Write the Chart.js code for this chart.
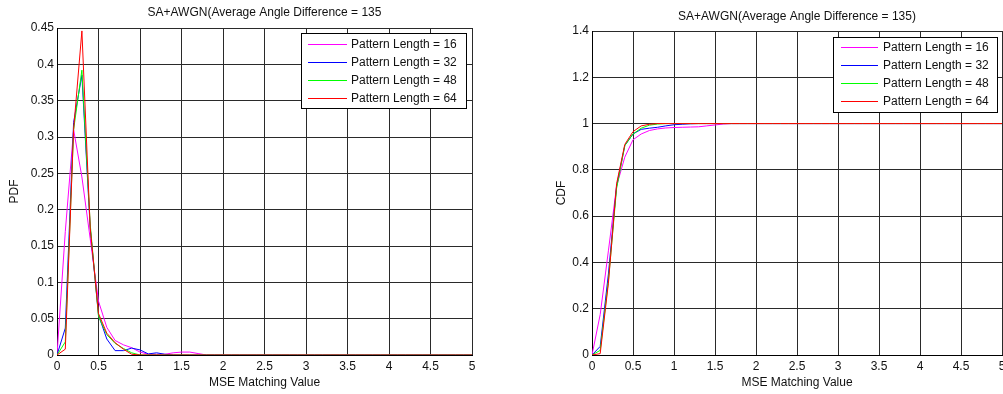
<!DOCTYPE html>
<html><head><meta charset="utf-8">
<script src="https://cdn.jsdelivr.net/npm/chart.js@4.4.0/dist/chart.umd.min.js"></script>
<style>
html,body{margin:0;padding:0;background:#fff;width:1003px;height:394px;overflow:hidden}
canvas{position:absolute;top:0}
#c1{left:0}
#c2{left:540px}
</style></head><body>
<canvas id="c1" width="500" height="394"></canvas>
<canvas id="c2" width="463" height="394"></canvas>
<script>
// ---- data ----
const mseValues = [0,0.1,0.2,0.3,0.4,0.5,0.6,0.7,0.8,0.9,1,1.1,1.2,1.3,1.4,1.5,1.6,1.7,1.8,1.9,2,2.1,2.2,2.3,2.4,2.5,2.6,2.7,2.8,2.9,3,3.1,3.2,3.3,3.4,3.5,3.6,3.7,3.8,3.9,4,4.1,4.2,4.3,4.4,4.5,4.6,4.7,4.8,4.9,5];
const seriesLabels = ['Pattern Length = 16','Pattern Length = 32','Pattern Length = 48','Pattern Length = 64'];
const seriesColors = ['#ff00ff','#0000ff','#00ff00','#ff0000'];

const pdf16 = [0,0.17,0.31,0.245,0.16,0.074,0.038,0.02,0.014,0.01,0.004,0.001,0.001,0.001,0.003,0.004,0.004,0.002,0,0,0,0,0,0,0,0,0,0,0,0,0,0,0,0,0,0,0,0,0,0,0,0,0,0,0,0,0,0,0,0,0];
const pdf32 = [0,0.037,0.32,0.385,0.175,0.055,0.022,0.006,0.006,0.0095,0.007,0.0015,0.003,0.001,0,0,0,0,0,0,0,0,0,0,0,0,0,0,0,0,0,0,0,0,0,0,0,0,0,0,0,0,0,0,0,0,0,0,0,0,0];
const pdf48 = [0,0.018,0.31,0.392,0.18,0.053,0.028,0.016,0.009,0.003,0,0,0,0,0,0,0,0,0,0,0,0,0,0,0,0,0,0,0,0,0,0,0,0,0,0,0,0,0,0,0,0,0,0,0,0,0,0,0,0,0];
const pdf64 = [0,0.008,0.31,0.446,0.175,0.057,0.03,0.017,0.008,0.001,0,0,0,0,0,0,0,0,0,0,0,0,0,0,0,0,0,0,0,0,0,0,0,0,0,0,0,0,0,0,0,0,0,0,0,0,0,0,0,0,0];

const cdf16 = [0,0.175,0.45,0.73,0.855,0.93,0.955,0.97,0.977,0.981,0.983,0.984,0.985,0.986,0.99,0.994,0.998,1,1,1,1,1,1,1,1,1,1,1,1,1,1,1,1,1,1,1,1,1,1,1,1,1,1,1,1,1,1,1,1,1,1];
const cdf32 = [0,0.037,0.35,0.73,0.905,0.955,0.975,0.98,0.984,0.99,0.995,0.997,0.999,1,1,1,1,1,1,1,1,1,1,1,1,1,1,1,1,1,1,1,1,1,1,1,1,1,1,1,1,1,1,1,1,1,1,1,1,1,1];
const cdf48 = [0,0.02,0.32,0.72,0.905,0.955,0.98,0.993,0.998,1,1,1,1,1,1,1,1,1,1,1,1,1,1,1,1,1,1,1,1,1,1,1,1,1,1,1,1,1,1,1,1,1,1,1,1,1,1,1,1,1,1];
const cdf64 = [0,0.006,0.31,0.74,0.91,0.965,0.99,0.997,1,1,1,1,1,1,1,1,1,1,1,1,1,1,1,1,1,1,1,1,1,1,1,1,1,1,1,1,1,1,1,1,1,1,1,1,1,1,1,1,1,1,1];

const xTicks = [0,0.5,1,1.5,2,2.5,3,3.5,4,4.5,5];
const xTickLabels = ['0','0.5','1','1.5','2','2.5','3','3.5','4','4.5','5'];
const pdfYTicks = [0,0.05,0.1,0.15,0.2,0.25,0.3,0.35,0.4,0.45];
const pdfYTickLabels = ['0','0.05','0.1','0.15','0.2','0.25','0.3','0.35','0.4','0.45'];
const cdfYTicks = [0,0.2,0.4,0.6,0.8,1,1.2,1.4];
const cdfYTickLabels = ['0','0.2','0.4','0.6','0.8','1','1.2','1.4'];

// ---- styling ----
const FONT = {family: "'Liberation Sans', Arial, Helvetica, sans-serif", size: 12};
const TXT = '#111';
const GRID = '#2a2a2a';

const boxLegend = {
  id: 'boxLegend',
  afterDatasetsDraw(chart, args, o) {
    const ctx = chart.ctx, a = chart.chartArea;
    const x0 = Math.round(a.right - o.right - o.width), y0 = Math.round(a.top + o.top);
    ctx.save();
    ctx.fillStyle = '#fff';
    ctx.fillRect(x0, y0, o.width, o.height);
    ctx.strokeStyle = '#000'; ctx.lineWidth = 1;
    ctx.strokeRect(x0 + 0.5, y0 + 0.5, o.width, o.height);
    ctx.font = `${FONT.size}px ${FONT.family}`;
    ctx.textBaseline = 'middle'; ctx.textAlign = 'left';
    chart.data.datasets.forEach((ds, i) => {
      const y = Math.round(y0 + o.firstRow + i * o.rowGap) + 0.5;
      ctx.strokeStyle = ds.borderColor; ctx.lineWidth = 1;
      ctx.beginPath(); ctx.moveTo(x0 + o.lineStart, y); ctx.lineTo(x0 + o.lineEnd, y); ctx.stroke();
      ctx.fillStyle = TXT;
      ctx.fillText(ds.label, x0 + o.textStart, y + 0.5);
    });
    ctx.restore();
  }
};

function datasets(arrs) {
  return arrs.map((d, i) => ({
    label: seriesLabels[i], data: d, borderColor: seriesColors[i], backgroundColor: seriesColors[i],
    borderWidth: 1, pointRadius: 0, tension: 0, fill: false, order: -i
  }));
}

function makeChart(id, cfg) {
  return new Chart(document.getElementById(id), {
    type: 'line',
    data: {labels: mseValues, datasets: datasets(cfg.series)},
    options: {
      responsive: false, animation: false, events: [],
      layout: {padding: {left: 0, top: 0, right: cfg.padRight, bottom: 0}},
      scales: {
        x: {
          type: 'linear', min: 0, max: 5,
          afterBuildTicks: s => { s.ticks = xTicks.map(v => ({value: v})); },
          afterFit: s => { s.height = 39; s.paddingLeft = 0; s.paddingRight = 0; },
          grid: {color: GRID, lineWidth: 1, drawTicks: false},
          border: {display: true, color: '#000', width: 1},
          ticks: {padding: 4, color: TXT, font: FONT, maxRotation: 0, autoSkip: false,
                  callback: (v, i) => xTickLabels[i]},
          title: {display: true, text: 'MSE Matching Value', color: TXT, font: FONT, padding: {top: 0, bottom: 4.5}}
        },
        y: {
          type: 'linear', min: 0, max: cfg.yMax,
          afterBuildTicks: s => { s.ticks = cfg.yTicks.map(v => ({value: v})); },
          afterFit: s => { s.width = cfg.yWidth; s.paddingTop = 0; s.paddingBottom = 0; },
          grid: {color: GRID, lineWidth: 1, drawTicks: false},
          border: {display: true, color: '#000', width: 1},
          ticks: {padding: 3, color: TXT, font: FONT, autoSkip: false,
                  callback: (v, i) => cfg.yLabels[i]},
          title: {display: true, text: cfg.yTitle, color: TXT, font: FONT, padding: {top: cfg.yTitlePad, bottom: 0}}
        }
      },
      plugins: {
        legend: {display: false}, tooltip: {enabled: false},
        title: {display: true, text: cfg.title, color: TXT, font: {...FONT, weight: 'normal'}, fullSize: false,
                padding: cfg.titlePad},
        boxLegend: cfg.legend
      }
    },
    plugins: [boxLegend]
  });
}

makeChart('c1', {
  series: [pdf16, pdf32, pdf48, pdf64],
  yMax: 0.45, yTicks: pdfYTicks, yLabels: pdfYTickLabels, yWidth: 57, yTitle: 'PDF', yTitlePad: 7,
  padRight: 28,
  title: 'SA+AWGN(Average Angle Difference = 135',
  titlePad: {top: 5.8, bottom: 7.8},
  legend: {right: 6, top: 5, width: 165, height: 75, firstRow: 11, rowGap: 17.9, lineStart: 7, lineEnd: 46, textStart: 50}
});

makeChart('c2', {
  series: [cdf16, cdf32, cdf48, cdf64],
  yMax: 1.4, yTicks: cdfYTicks, yLabels: cdfYTickLabels, yWidth: 52, yTitle: 'CDF', yTitlePad: 14,
  padRight: 1,
  title: 'SA+AWGN(Average Angle Difference = 135)',
  titlePad: {top: 9.8, bottom: 6.8},
  legend: {right: 5, top: 6, width: 164, height: 75, firstRow: 10, rowGap: 18, lineStart: 8, lineEnd: 45, textStart: 50}
});
</script>
</body></html>
